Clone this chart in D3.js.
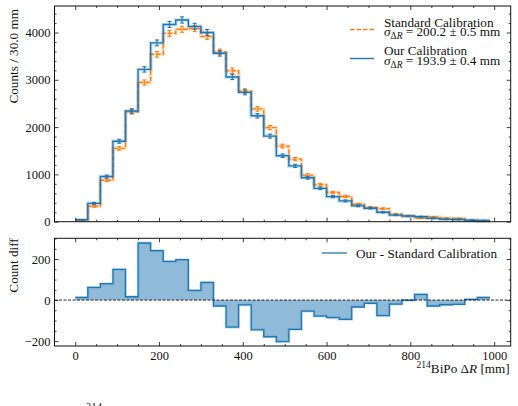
<!DOCTYPE html>
<html>
<head>
<meta charset="utf-8">
<script src="https://cdn.jsdelivr.net/npm/d3@7"></script>
<style>
	body { margin: 0; background: white; }
	svg { display: block; }
	text { font-family: 'Liberation Serif', serif; fill: #111; }
</style>
</head>
<body>
<div id="app"></div>
<script>
// lower edge of each 30 mm bin
const binLow = [0, 30, 60, 90, 120, 150, 180, 210, 240, 270, 300, 330, 360, 390, 420, 450,
	480, 510, 540, 570, 600, 630, 660, 690, 720, 750, 780, 810, 840, 870, 900, 930, 960]
const binHigh = 990

// counts per bin
const ourCounts = [40, 388, 955, 1700, 2340, 3220, 3780, 4170, 4265, 4130, 4000, 3560, 3060,
	2735, 2240, 1810, 1395, 1180, 930, 705, 530, 440, 335, 285, 200, 140, 120, 105, 71, 50, 47, 31, 25]
const standardCounts = [27, 326, 875, 1550, 2324, 2942, 3539, 3981, 4068, 4083, 3914, 3589, 3192,
	2759, 2385, 1989, 1598, 1323, 984, 783, 616, 534, 369, 301, 276, 160, 121, 77, 100, 73, 68, 28, 12]
const diffCounts = [13, 62, 80, 150, 16, 278, 241, 189, 197, 47, 86, -29, -132, -24, -145, -179,
	-203, -143, -54, -78, -86, -94, -34, -16, -76, -20, -1, 28, -29, -23, -21, 3, 13]

// tick values
const xMajor = [0, 200, 400, 600, 800, 1000]
const yTopMajor = [0, 1000, 2000, 3000, 4000]
const yBotMajor = [-200, 0, 200]

const blue = '#1f77b4'
const orange = '#ff7f0e'

const width = 518
const height = 406
const left = 54.5
const right = 510.7
const top1 = 6, bottom1 = 221.7
const top2 = 238.3, bottom2 = 346

const textSize = '13.2px'
const tickSize = '12.5px'

const svg = d3.select('#app').append('svg')
	.attr('width', width)
	.attr('height', height)

const x = d3.scaleLinear().domain([-49.5, 1039.5]).range([left, right])
const yTop = d3.scaleLinear().domain([0, 4560]).range([bottom1, top1])
const yBot = d3.scaleLinear().domain([-224, 301]).range([bottom2, top2])

function label(sel) {
	return sel.style('font-size', textSize)
}

// draw ticks on all four sides, pointing inward
function drawFrame(g, y, yTicks, yMinor, showX) {
	const xMinor = d3.range(-50, 1040, 50).filter((d) => d % 200 !== 0 && d > -49.5)
	const yr = y.range()
	const fmt = (d) => (d < 0 ? '\u2212' + Math.abs(d) : d)

	g.append('g').attr('transform', `translate(0,${yr[0]})`)
		.call(d3.axisBottom(x).tickValues(xMajor).tickSize(-4).tickPadding(5)
			.tickFormat(showX ? fmt : ''))
	g.append('g').attr('transform', `translate(0,${yr[0]})`)
		.call(d3.axisBottom(x).tickValues(xMinor).tickSize(-2).tickFormat(''))
	g.append('g').attr('transform', `translate(0,${yr[1]})`)
		.call(d3.axisTop(x).tickValues(xMajor).tickSize(-4).tickFormat(''))
	g.append('g').attr('transform', `translate(0,${yr[1]})`)
		.call(d3.axisTop(x).tickValues(xMinor).tickSize(-2).tickFormat(''))

	g.append('g').attr('transform', `translate(${left},0)`)
		.call(d3.axisLeft(y).tickValues(yTicks).tickSize(-4).tickPadding(4).tickFormat(fmt))
	g.append('g').attr('transform', `translate(${left},0)`)
		.call(d3.axisLeft(y).tickValues(yMinor).tickSize(-2).tickFormat(''))
	g.append('g').attr('transform', `translate(${right},0)`)
		.call(d3.axisRight(y).tickValues(yTicks).tickSize(-4).tickFormat(''))
	g.append('g').attr('transform', `translate(${right},0)`)
		.call(d3.axisRight(y).tickValues(yMinor).tickSize(-2).tickFormat(''))

	g.selectAll('.domain').remove()
	g.selectAll('.tick line').attr('stroke', '#111').attr('stroke-width', 0.8)
	g.selectAll('.tick text').style('font-family', "'Liberation Serif', serif")
		.style('font-size', tickSize).attr('fill', '#111')

	g.append('rect')
		.attr('x', left).attr('y', yr[1])
		.attr('width', right - left).attr('height', yr[0] - yr[1])
		.attr('fill', 'none').attr('stroke', '#111').attr('stroke-width', 1)
}

// step points for a histogram
function stepData(values) {
	const pts = values.map((v, i) => [binLow[i], v])
	pts.push([binHigh, values[values.length - 1]])
	return pts
}

// ---------- top panel ----------
const gTop = svg.append('g')

function drawHist(values, color, dash) {
	const line = d3.line().curve(d3.curveStepAfter)
		.x((d) => x(d[0])).y((d) => yTop(d[1]))

	// soft halo under the step
	gTop.append('path')
		.attr('d', line(stepData(values)))
		.attr('fill', 'none').attr('stroke', color)
		.attr('stroke-width', 3.5).attr('opacity', 0.25)

	gTop.append('path')
		.attr('d', line(stepData(values)))
		.attr('fill', 'none').attr('stroke', color)
		.attr('stroke-width', 1.4)
		.attr('stroke-dasharray', dash)

	// poisson error bars at bin centres
	const eb = gTop.append('g').attr('stroke', color).attr('stroke-width', 1.1)
	values.forEach((v, i) => {
		const cx = x(binLow[i] + 15)
		const e = Math.sqrt(v)
		eb.append('line').attr('x1', cx).attr('x2', cx)
			.attr('y1', yTop(v - e)).attr('y2', yTop(v + e))
		eb.append('line').attr('x1', cx - 2).attr('x2', cx + 2)
			.attr('y1', yTop(v - e)).attr('y2', yTop(v - e))
		eb.append('line').attr('x1', cx - 2).attr('x2', cx + 2)
			.attr('y1', yTop(v + e)).attr('y2', yTop(v + e))
	})
}

drawHist(standardCounts, orange, '4.5,2')
drawHist(ourCounts, blue, null)

drawFrame(gTop, yTop, yTopMajor, d3.range(200, 4560, 200).filter((d) => d % 1000 !== 0), false)

// legend
function sigmaText(g, tx, ty, value) {
	const t = label(g.append('text').attr('x', tx).attr('y', ty))
	t.append('tspan').style('font-style', 'italic').text('\u03c3')
	t.append('tspan').attr('dy', 3).style('font-size', '9.5px').text('\u0394')
	t.append('tspan').style('font-size', '9.5px').style('font-style', 'italic').text('R')
	t.append('tspan').attr('dy', -3).text(' = ' + value + ' mm')
}

const legTop = svg.append('g')
legTop.append('line')
	.attr('x1', 350).attr('x2', 374).attr('y1', 29.5).attr('y2', 29.5)
	.attr('stroke', orange).attr('stroke-width', 1.4).attr('stroke-dasharray', '4.5,2')
label(legTop.append('text').attr('x', 384).attr('y', 26.5))
	.text('Standard Calibration')
sigmaText(legTop, 384, 36, '200.2 \u00b1 0.5')

legTop.append('line')
	.attr('x1', 350).attr('x2', 374).attr('y1', 58.5).attr('y2', 58.5)
	.attr('stroke', blue).attr('stroke-width', 1.4)
label(legTop.append('text').attr('x', 384).attr('y', 55))
	.text('Our Calibration')
sigmaText(legTop, 384, 65, '193.9 \u00b1 0.4')

// y label, placed at the top of the axis
label(svg.append('text')
	.attr('transform', `translate(17.5,${top1 + 3}) rotate(-90)`)
	.attr('text-anchor', 'end'))
	.text('Counts / 30.0 mm')

// ---------- bottom panel ----------
const gBot = svg.append('g')

const area = d3.area().curve(d3.curveStepAfter)
	.x((d) => x(d[0])).y0(yBot(0)).y1((d) => yBot(d[1]))
const diffLine = d3.line().curve(d3.curveStepAfter)
	.x((d) => x(d[0])).y((d) => yBot(d[1]))

gBot.append('path')
	.attr('d', area(stepData(diffCounts)))
	.attr('fill', blue).attr('opacity', 0.5)
gBot.append('path')
	.attr('d', diffLine(stepData(diffCounts)))
	.attr('fill', 'none').attr('stroke', blue).attr('stroke-width', 3)
	.attr('opacity', 0.2)
gBot.append('path')
	.attr('d', diffLine(stepData(diffCounts)))
	.attr('fill', 'none').attr('stroke', blue).attr('stroke-width', 1.3)

// zero line
gBot.append('line')
	.attr('x1', left).attr('x2', right)
	.attr('y1', yBot(0)).attr('y2', yBot(0))
	.attr('stroke', '#111').attr('stroke-width', 0.9)
	.attr('stroke-dasharray', '3,1.5')

drawFrame(gBot, yBot, yBotMajor, d3.range(-200, 301, 50).filter((d) => d % 200 !== 0), true)

// bottom legend
gBot.append('line')
	.attr('x1', 322).attr('x2', 347).attr('y1', 253).attr('y2', 253)
	.attr('stroke', blue).attr('stroke-width', 1.3)
label(gBot.append('text').attr('x', 356).attr('y', 257.5))
	.text('Our - Standard Calibration')

label(svg.append('text')
	.attr('transform', `translate(17.5,${top2}) rotate(-90)`)
	.attr('text-anchor', 'end'))
	.text('Count diff')

// x label, placed at the right end
const xl = label(svg.append('text')
	.attr('x', right - 1).attr('y', 373)
	.attr('text-anchor', 'end'))
xl.append('tspan').attr('dy', -5).style('font-size', '9.5px').text('214')
xl.append('tspan').attr('dy', 5).text('BiPo \u0394')
xl.append('tspan').style('font-style', 'italic').text('R')
xl.append('tspan').text(' [mm]')

// clipped caption fragment at the very bottom
svg.append('text')
	.attr('x', 86).attr('y', 410)
	.style('font-size', '10px')
	.style('letter-spacing', '0.5px')
	.text('214')
</script>
</body>
</html>
